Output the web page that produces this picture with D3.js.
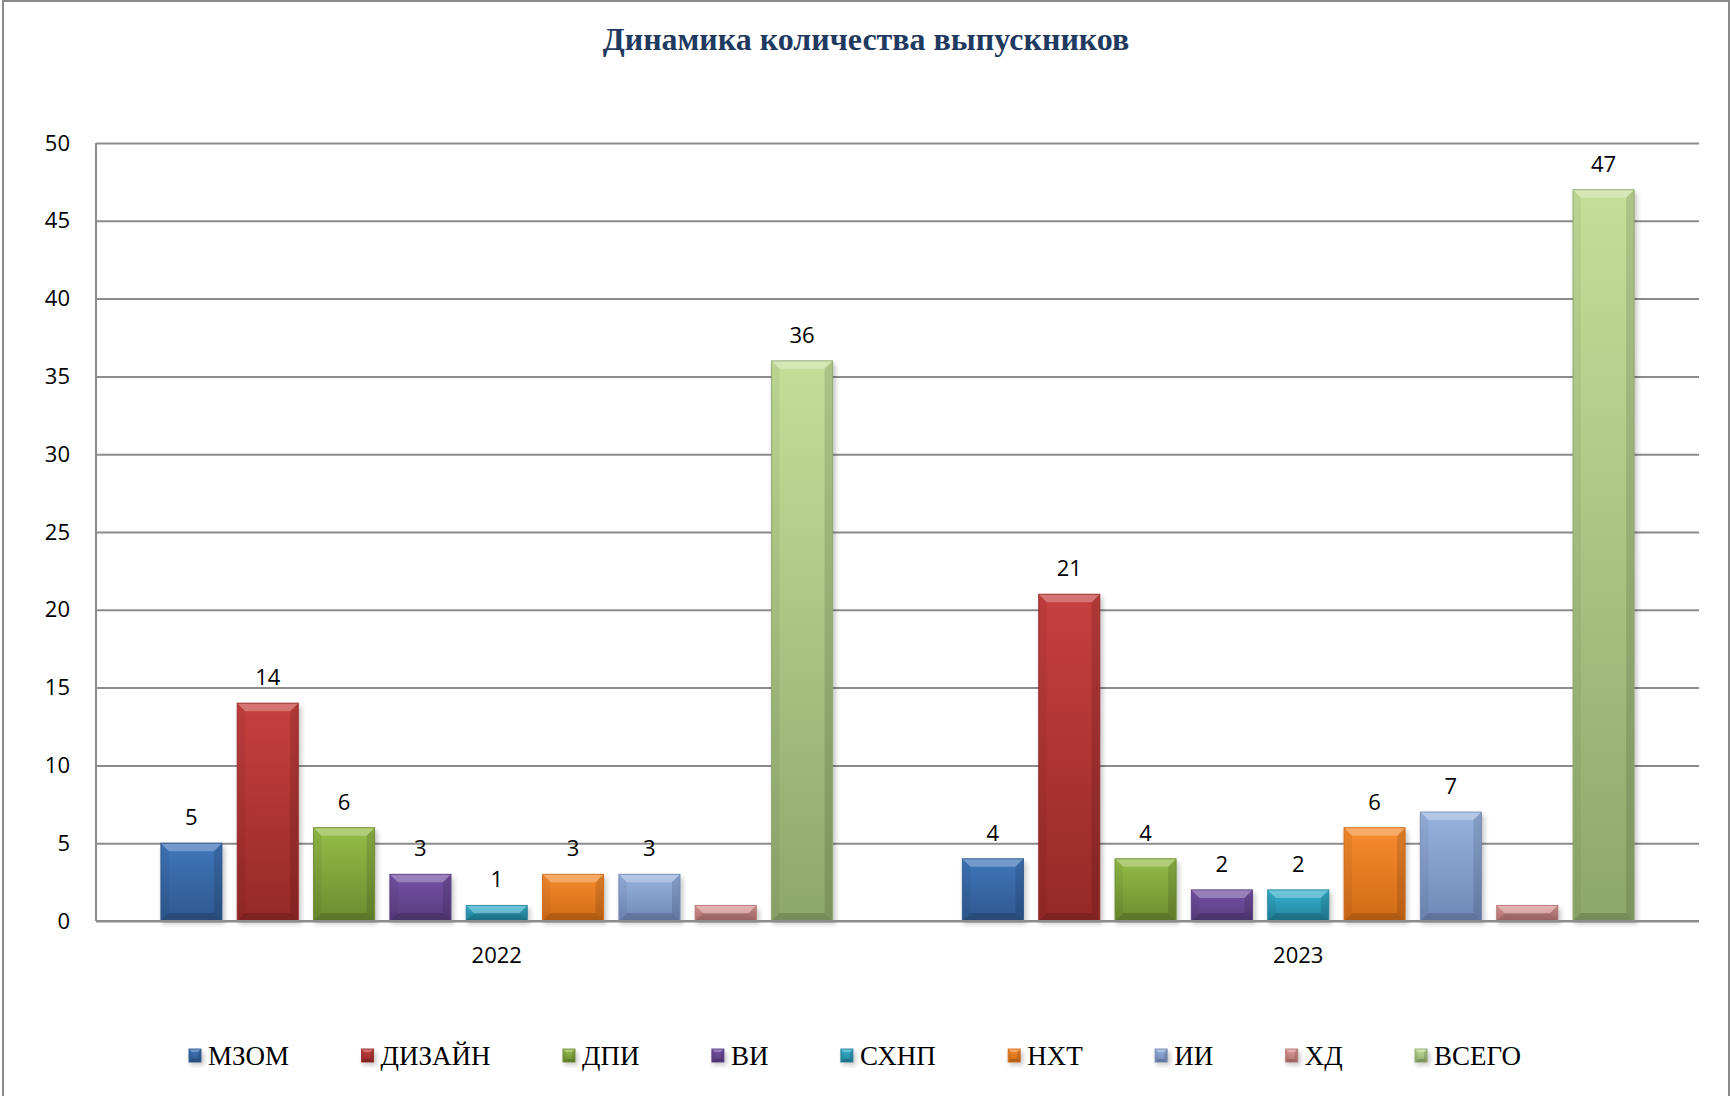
<!DOCTYPE html>
<html>
<head>
<meta charset="utf-8">
<script src="https://cdn.jsdelivr.net/npm/d3@7"></script>
<style>
  body { margin: 0; background: #fff; }
  .tick text { font-family: "Open Sans", sans-serif; font-size: 22px; fill: #000; }
  .barLabel { font-family: "Open Sans", sans-serif; font-size: 22px; fill: #000; text-anchor: middle; }
  .legendText { font-family: "Liberation Serif", "Times New Roman", serif; font-size: 27px; fill: #000; }
</style>
</head>
<body>
<div id="chart"></div>
<script>
// Chart data
var years = ["2022", "2023"];
var series = ["МЗОМ", "ДИЗАЙН", "ДПИ", "ВИ", "СХНП", "НХТ", "ИИ", "ХД", "ВСЕГО"];
var values2022 = [5, 14, 6, 3, 1, 3, 3, 1, 36];
var values2023 = [4, 21, 4, 2, 2, 6, 7, 1, 47];
var yTicks = [0, 5, 10, 15, 20, 25, 30, 35, 40, 45, 50];
var hiddenLabels = ["ХД"];

// top / bottom gradient colours per series
var colorsTop = ["#3f76bb", "#c6403e", "#94bd47", "#7651a6", "#36b3d1", "#f78c2e", "#98b3df", "#dc9a98", "#c5df99"];
var colorsBottom = ["#2f588e", "#952928", "#6c8c30", "#583c7e", "#21819a", "#d06a16", "#7088b7", "#b47270", "#8da86b"];

var svgWidth = 1731;
var svgHeight = 1096;

var plot = { left: 96, right: 1699, top: 143, bottom: 921 };

var svg = d3.select("#chart")
  .append("svg")
  .attr("width", svgWidth)
  .attr("height", svgHeight);

var defs = svg.append("defs");

// vertical gradients for bars
series.forEach(function(s, i) {
  var g = defs.append("linearGradient")
    .attr("id", "grad" + i)
    .attr("x1", 0).attr("y1", 0).attr("x2", 0).attr("y2", 1);
  g.append("stop").attr("offset", "0%").attr("stop-color", colorsTop[i]);
  g.append("stop").attr("offset", "100%").attr("stop-color", colorsBottom[i]);
});

var shadow = defs.append("filter")
  .attr("id", "shadow")
  .attr("x", "-20%").attr("y", "-20%").attr("width", "140%").attr("height", "140%");
shadow.append("feGaussianBlur").attr("stdDeviation", 2.5);

// outer border
svg.append("rect")
  .attr("x", 3)
  .attr("y", 1)
  .attr("width", 1726)
  .attr("height", 1110)
  .attr("fill", "#fff")
  .attr("stroke", "#8a8a8a")
  .attr("stroke-width", 2);

// Title
svg.append("text")
  .attr("x", 866)
  .attr("y", 50)
  .attr("text-anchor", "middle")
  .style("font-family", '"Liberation Serif", "Times New Roman", serif')
  .style("font-weight", "bold")
  .style("font-size", "32px")
  .style("fill", "#1f3a60")
  .text("Динамика количества выпускников");

// Scales
var yScale = d3.scaleLinear()
  .domain([0, 50])
  .range([plot.bottom, plot.top]);

var x0 = d3.scaleBand()
  .domain(years)
  .range([plot.left, plot.right]);

var x1 = d3.scaleBand()
  .domain(series)
  .range([0, x0.bandwidth()])
  .paddingInner(0.2)
  .paddingOuter(0.85);

// Gridlines + y axis
var leftAxis = d3.axisLeft(yScale)
  .tickValues(yTicks)
  .tickSize(-(plot.right - plot.left))
  .tickPadding(26);

var yAxis = svg.append("g")
  .attr("transform", `translate(${plot.left}, 0)`)
  .call(leftAxis);
yAxis.select(".domain").remove();
yAxis.selectAll(".tick line")
  .attr("stroke", "#8c8c8c")
  .attr("stroke-width", 2);

svg.append("line")
  .attr("x1", plot.left).attr("x2", plot.left)
  .attr("y1", plot.top).attr("y2", plot.bottom)
  .attr("stroke", "#8c8c8c")
  .attr("stroke-width", 2);

// x axis labels
var bottomAxis = d3.axisBottom(x0).tickSize(0).tickPadding(26);
var xAxis = svg.append("g")
  .attr("transform", `translate(0, ${plot.bottom})`)
  .call(bottomAxis);
xAxis.select(".domain").remove();

// flatten data
var barData = [];
years.forEach(function(yr, yi) {
  var vals = yi === 0 ? values2022 : values2023;
  series.forEach(function(s, si) {
    barData.push({ year: yr, name: s, idx: si, value: vals[si] });
  });
});

function bevelShapes(g, xl, xr, yt, yb, b, idx) {
  // shadow
  g.append("rect")
    .attr("x", xl + 1).attr("y", yt + 3)
    .attr("width", xr - xl + 2).attr("height", yb - yt)
    .attr("fill", "#000")
    .attr("opacity", 0.22)
    .attr("filter", "url(#shadow)");
  g.append("rect")
    .attr("x", xl).attr("y", yt)
    .attr("width", xr - xl).attr("height", yb - yt)
    .attr("fill", "url(#grad" + idx + ")");
  var polys = [
    { pts: [[xl, yt], [xr, yt], [xr - b, yt + b], [xl + b, yt + b]], fill: "#fff", op: 0.28 },
    { pts: [[xl, yt], [xl + b, yt + b], [xl + b, yb - b], [xl, yb]], fill: "#000", op: 0.05 },
    { pts: [[xr, yt], [xr, yb], [xr - b, yb - b], [xr - b, yt + b]], fill: "#000", op: 0.12 },
    { pts: [[xl, yb], [xl + b, yb - b], [xr - b, yb - b], [xr, yb]], fill: "#000", op: 0.16 }
  ];
  polys.forEach(function(p) {
    g.append("polygon")
      .attr("points", p.pts.map(function(q) { return q.join(","); }).join(" "))
      .attr("fill", p.fill)
      .attr("opacity", p.op);
  });
  g.append("rect")
    .attr("x", xl).attr("y", yt)
    .attr("width", xr - xl).attr("height", yb - yt)
    .attr("fill", "none")
    .attr("stroke", colorsBottom[idx])
    .attr("stroke-opacity", 0.9)
    .attr("stroke-width", 1);
}

// Bars
var barsGroup = svg.append("g");
barData.forEach(function(d) {
  var xl = x0(d.year) + x1(d.name);
  var xr = xl + x1.bandwidth();
  var yt = yScale(d.value);
  var yb = yScale(0);
  var b = Math.min(8, (yb - yt) / 2);
  bevelShapes(barsGroup.append("g"), xl, xr, yt, yb, b, d.idx);
});

// bottom axis line drawn over bars' shadows
svg.append("line")
  .attr("x1", plot.left).attr("x2", plot.right)
  .attr("y1", plot.bottom).attr("y2", plot.bottom)
  .attr("stroke", "#8c8c8c")
  .attr("stroke-width", 2);

// Data labels
svg.selectAll(".barLabel")
  .data(barData.filter(function(d) { return hiddenLabels.indexOf(d.name) < 0; }))
  .enter()
  .append("text")
  .attr("class", "barLabel")
  .attr("x", d => x0(d.year) + x1(d.name) + x1.bandwidth() / 2)
  .attr("y", d => yScale(d.value) - 18)
  .text(d => d.value);

// Legend
var legend = svg.append("g");
var legendStart = 189, legendEnd = 1521, legendY = 1056;
var items = series.map(function(s, i) {
  var g = legend.append("g");
  bevelShapes(g, 0, 12, -7, 6, 3, i);
  var t = g.append("text")
    .attr("class", "legendText")
    .attr("x", 19)
    .attr("y", 9)
    .text(s);
  return { g: g, w: 19 + t.node().getComputedTextLength() };
});
var totalW = d3.sum(items, d => d.w);
var gap = (legendEnd - legendStart - totalW) / (items.length - 1);
var cx = legendStart;
items.forEach(function(it) {
  it.g.attr("transform", `translate(${cx}, ${legendY})`);
  cx += it.w + gap;
});
</script>
</body>
</html>
